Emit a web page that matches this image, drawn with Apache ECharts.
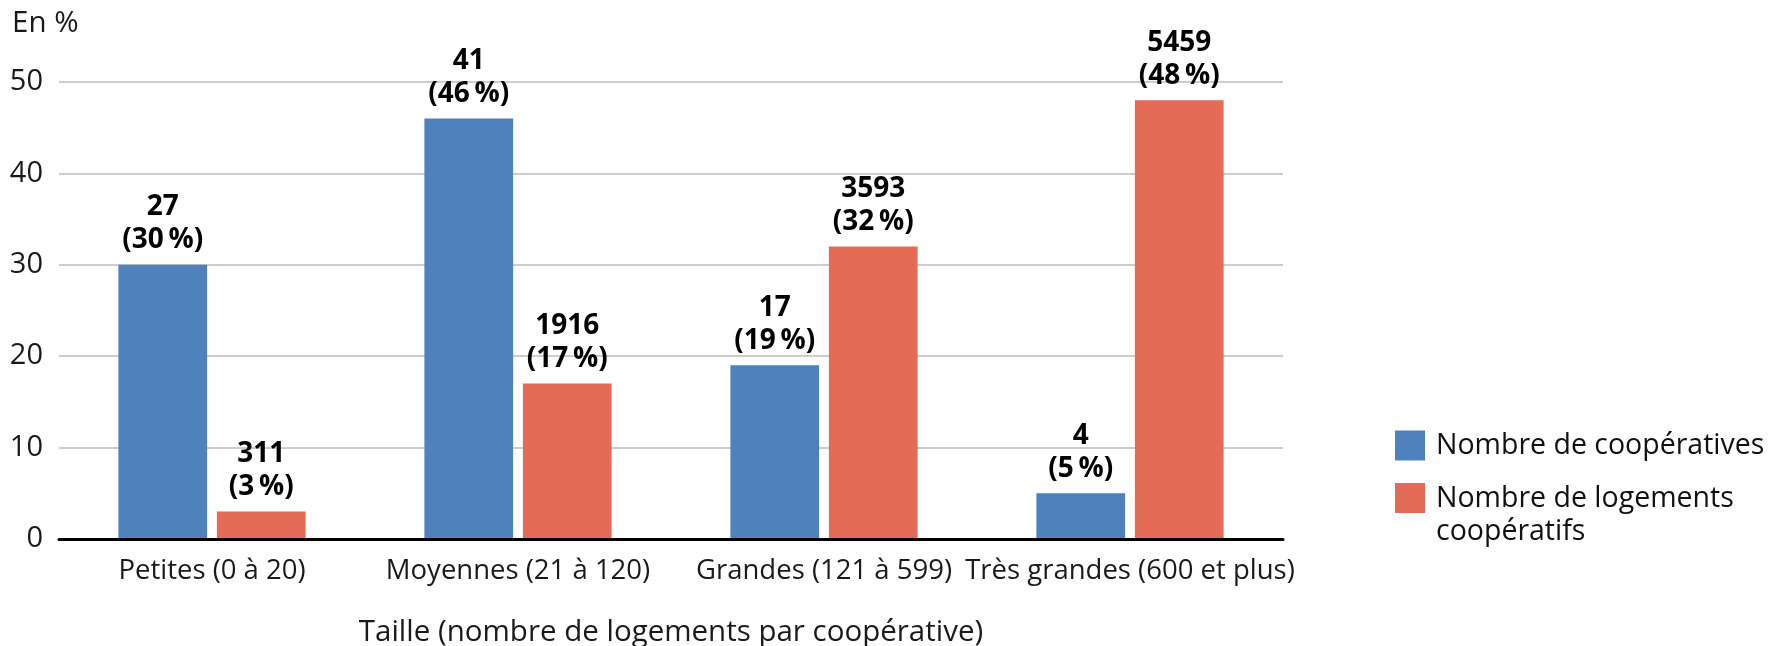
<!DOCTYPE html>
<html>
<head>
<meta charset="utf-8">
<script src="https://cdn.jsdelivr.net/npm/echarts@6/dist/echarts.min.js"></script>
<style>
html,body{margin:0;padding:0;background:#fff;}
#chart{width:1791px;height:646px;}
</style>
</head>
<body>
<div id="chart"></div>
<script>
const categories = ['Petites (0 à 20)', 'Moyennes (21 à 120)', 'Grandes (121 à 599)', 'Très grandes (600 et plus)'];
const seriesNames = ['Nombre de coopératives', 'Nombre de logements coopératifs'];
const coopPercent = [30, 46, 19, 5];
const coopCount = [27, 41, 17, 4];
const logPercent = [3, 17, 32, 48];
const logCount = [311, 1916, 3593, 5459];
const yTicks = [0, 10, 20, 30, 40, 50];

const FONT = '"Open Sans", "Noto Sans", sans-serif';
const chart = echarts.init(document.getElementById('chart'));

function labelFmt(counts) {
  return function (p) {
    return counts[p.dataIndex] + '\n(' + p.value + '\u2009%)';
  };
}

const labelStyle = {
  show: true,
  position: 'top',
  distance: 8,
  fontFamily: FONT,
  fontWeight: 'bold',
  fontSize: 28,
  lineHeight: 33,
  color: '#000'
};

const legendText = {
  fontFamily: FONT,
  fontSize: 28.5,
  lineHeight: 33,
  color: '#111',
  rich: { t: { fontFamily: FONT, fontSize: 28.5, lineHeight: 33, color: '#111', padding: [0, 0, 0, 6] } }
};

chart.setOption({
  animation: false,
  backgroundColor: '#fff',
  title: {
    text: 'En %',
    left: 12,
    top: 9,
    padding: 0,
    textStyle: { fontFamily: FONT, fontWeight: 'normal', fontSize: 29.5, color: '#1a1a1a' }
  },
  legend: [
    {
      orient: 'vertical',
      left: 1395,
      top: 429,
      padding: 0,
      itemWidth: 30,
      itemHeight: 30,
      icon: 'rect',
      textStyle: legendText,
      data: [seriesNames[0]],
      formatter: function (name) { return '{t|' + name + '}'; }
    },
    {
      orient: 'vertical',
      left: 1395,
      top: 482,
      padding: 0,
      itemWidth: 30,
      itemHeight: 64,
      icon: 'path://M0,0L30,0L30,30L0,30Z M0,63.95L0.05,63.95L0.05,64L0,64Z',
      textStyle: legendText,
      data: [seriesNames[1]],
      formatter: function () { return '{t|Nombre de logements}\n{t|coopératifs}'; }
    }
  ],
  grid: { left: 59, right: 508, top: 82, bottom: 107, containLabel: false, outerBoundsMode: 'none' },
  xAxis: {
    type: 'category',
    data: categories,
    name: 'Taille (nombre de logements par coopérative)',
    nameLocation: 'middle',
    nameGap: 79,
    nameTextStyle: { fontFamily: FONT, fontSize: 29.5, color: '#1a1a1a' },
    axisLine: { show: true, lineStyle: { color: '#000', width: 3 } },
    axisTick: { show: false },
    axisLabel: { fontFamily: FONT, fontSize: 27.5, color: '#1a1a1a', margin: 18, interval: 0 },
    z: 5
  },
  yAxis: {
    type: 'value',
    min: yTicks[0],
    max: yTicks[yTicks.length - 1],
    interval: 10,
    axisLine: { show: false },
    axisTick: { show: false },
    axisLabel: { fontFamily: FONT, fontSize: 29, color: '#1a1a1a', margin: 16 },
    splitLine: { lineStyle: { color: '#bdbdbd', width: 1.5 } }
  },
  series: [
    {
      name: seriesNames[0],
      type: 'bar',
      data: coopPercent,
      barWidth: '29%',
      barGap: '11%',
      itemStyle: { color: '#4f81bd' },
      label: Object.assign({}, labelStyle, { formatter: labelFmt(coopCount) })
    },
    {
      name: seriesNames[1],
      type: 'bar',
      data: logPercent,
      barWidth: '29%',
      barGap: '11%',
      itemStyle: { color: '#e46b56' },
      label: Object.assign({}, labelStyle, { formatter: labelFmt(logCount) })
    }
  ]
});
</script>
</body>
</html>
